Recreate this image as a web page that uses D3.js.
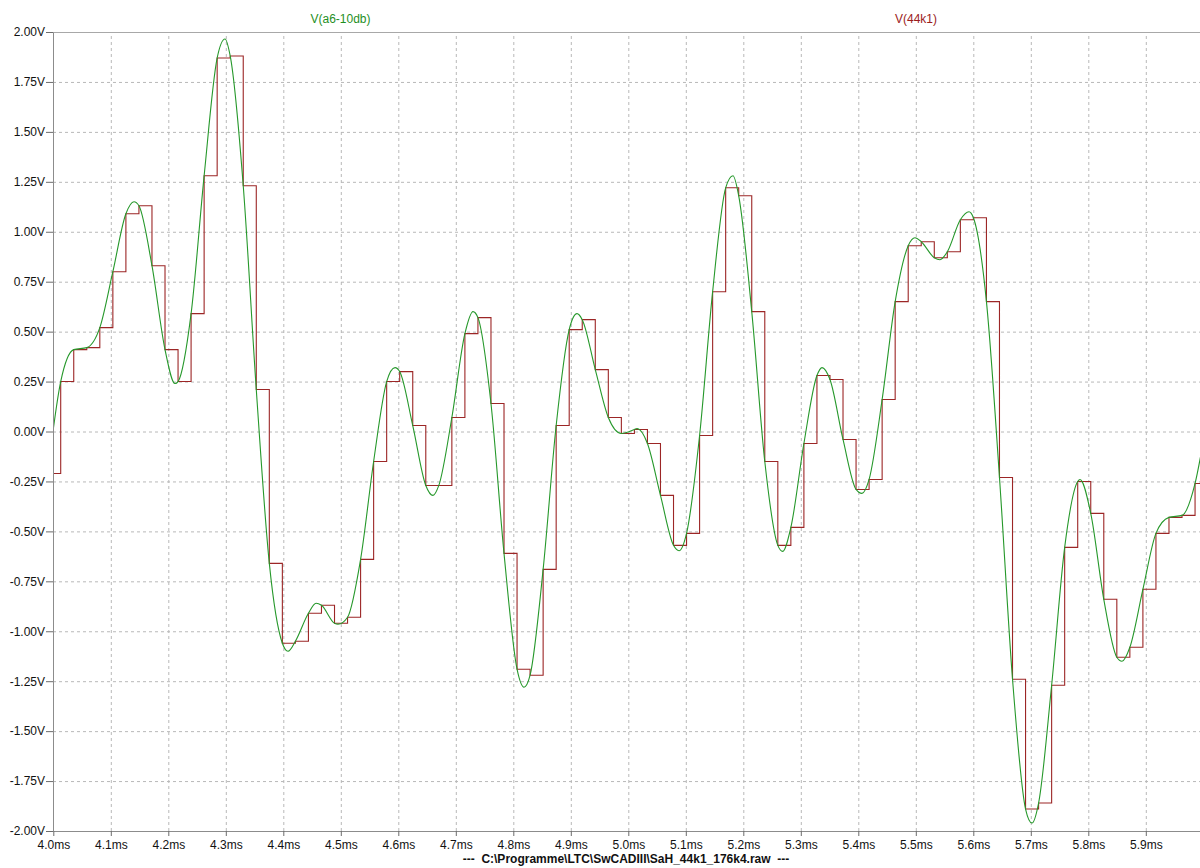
<!DOCTYPE html>
<html>
<head>
<meta charset="utf-8">
<script src="https://cdn.jsdelivr.net/npm/d3@7"></script>
<style>
body{margin:0;background:#fff}
svg{display:block;font-family:"Liberation Sans",Arial,Helvetica,sans-serif}
.grid line{stroke:#b8b8b8;stroke-dasharray:3,3}
.grid .domain{display:none}
.axis .domain{stroke:#8c8c8c}
.axis line{stroke:#6c6c6c}
.axis text{font-size:12px;fill:#111}
</style>
</head>
<body>
<div id="chart"></div>
<script>
// axis ticks
var xTicks = [4.0,4.1,4.2,4.3,4.4,4.5,4.6,4.7,4.8,4.9,5.0,5.1,5.2,5.3,5.4,5.5,5.6,5.7,5.8,5.9];
var yTicks = [2.00,1.75,1.50,1.25,1.00,0.75,0.50,0.25,0.00,-0.25,-0.50,-0.75,-1.00,-1.25,-1.50,-1.75,-2.00];
var seriesNames = ['V(a6-10db)','V(44k1)'];

// V(44k1): sample & hold at 44.1 kHz, first held sample starts at 3.9902 ms
var firstSampleMs = 3.9902;
var samplePeriodMs = 1/44.1;
var heldVolts = [-0.21,0.25,0.41,0.42,0.52,0.80,1.09,1.13,0.83,0.41,0.25,0.59,1.28,1.87,1.88,1.23,0.21,-0.66,-1.06,-1.05,
  -0.91,-0.87,-0.96,-0.93,-0.64,-0.15,0.25,0.30,0.03,-0.27,-0.27,0.07,0.49,0.57,0.14,-0.61,-1.19,-1.22,-0.69,0.03,
  0.51,0.56,0.31,0.07,-0.01,0.01,-0.06,-0.32,-0.57,-0.51,-0.02,0.70,1.22,1.18,0.60,-0.15,-0.57,-0.48,-0.06,0.28,
  0.26,-0.04,-0.29,-0.24,0.16,0.65,0.93,0.95,0.87,0.90,1.06,1.07,0.65,-0.23,-1.24,-1.89,-1.86,-1.27,-0.58,-0.25,
  -0.41,-0.84,-1.13,-1.08,-0.79,-0.51,-0.43,-0.42,-0.26];

// V(a6-10db): passes through the sample corners, plus its peaks / troughs
var peakMs    = [4.1403,4.2117,4.2986,4.4082,4.4569,4.4951,4.5943,4.6603,4.7299,4.8186,4.9108,5.0151,5.0882,5.1821,
  5.2685,5.3369,5.4064,5.4986,5.5421,5.5925,5.7021,5.7856,5.8586,6.0];
var peakVolts = [1.15,0.24,1.965,-1.10,-0.86,-0.965,0.32,-0.32,0.60,-1.28,0.59,0.015,-0.597,1.28,
  -0.60,0.32,-0.31,0.97,0.86,1.10,-1.96,-0.24,-1.15,-0.05];

var W = 1200, H = 868;
var pLeft = 53, pRight = 1200, pTop = 32, pBottom = 831;

var svg = d3.select('#chart').append('svg').attr('width', W).attr('height', H);
var x = d3.scaleLinear().domain([4.0, 6.0]).range([53.3, 1203.3]);
var y = d3.scaleLinear().domain([-2, 2]).range([pBottom, pTop]);

// dashed grid
svg.append('g').attr('class', 'grid')
    .attr('transform', 'translate(0,' + pBottom + ')')
    .call(d3.axisBottom(x).tickValues(xTicks.slice(1)).tickSize(-(pBottom - pTop)).tickFormat(''));
svg.append('g').attr('class', 'grid')
    .attr('transform', 'translate(' + pLeft + ',0)')
    .call(d3.axisLeft(y).tickValues(yTicks.slice(1, -1)).tickSize(-(pRight - pLeft)).tickFormat(''));

// top frame line
svg.append('line').attr('x1', pLeft).attr('x2', pRight).attr('y1', pTop + 0.5).attr('y2', pTop + 0.5).attr('stroke', '#a8a8a8');

// axes
var xa = svg.append('g').attr('class', 'axis')
    .attr('transform', 'translate(0,' + pBottom + ')')
    .call(d3.axisBottom(x).tickValues(xTicks).tickSize(5).tickSizeOuter(0).tickPadding(4).tickFormat(d => d.toFixed(1) + 'ms'));
xa.select('.domain').attr('d', 'M' + pLeft + ',0.5H' + pRight);
var ya = svg.append('g').attr('class', 'axis')
    .attr('transform', 'translate(' + pLeft + ',0)')
    .call(d3.axisLeft(y).tickValues(yTicks).tickSize(7).tickSizeOuter(0).tickPadding(1).tickFormat(d => d.toFixed(2) + 'V'));

// clip to plot
svg.append('clipPath').attr('id', 'plotclip').append('rect')
    .attr('x', pLeft + 1).attr('y', pTop).attr('width', pRight - pLeft).attr('height', pBottom - pTop);
var plot = svg.append('g').attr('clip-path', 'url(#plotclip)');

var samples = heldVolts.map((v, i) => [firstSampleMs + i * samplePeriodMs, v]);
var stepPts = samples.concat([[firstSampleMs + heldVolts.length * samplePeriodMs, heldVolts[heldVolts.length - 1]]]);

var smoothPts = samples.concat(peakMs.map((t, i) => [t, peakVolts[i]])).sort((a, b) => a[0] - b[0]);

plot.append('path').datum(stepPts)
    .attr('fill', 'none').attr('stroke', '#9c2626').attr('stroke-width', 1.1)
    .attr('d', d3.line().x(d => x(d[0])).y(d => y(d[1])).curve(d3.curveStepAfter));

plot.append('path').datum(smoothPts)
    .attr('fill', 'none').attr('stroke', '#26982b').attr('stroke-width', 1.1)
    .attr('d', d3.line().x(d => x(d[0])).y(d => y(d[1])).curve(d3.curveMonotoneX));

// legend labels
svg.append('text').text(seriesNames[0]).attr('x', 340.5).attr('y', 23).attr('text-anchor', 'middle')
    .attr('font-size', 12).attr('fill', '#1f8f1f');
svg.append('text').text(seriesNames[1]).attr('x', 916).attr('y', 23).attr('text-anchor', 'middle')
    .attr('font-size', 12).attr('fill', '#9b1c1c');

// file name
svg.append('text').text('---  C:\\Programme\\LTC\\SwCADIII\\SaH_44k1_176k4.raw  ---')
    .attr('x', 626).attr('y', 863).attr('text-anchor', 'middle').attr('xml:space', 'preserve')
    .attr('font-size', 12).attr('font-weight', 'bold').attr('fill', '#111');
</script>
</body>
</html>
